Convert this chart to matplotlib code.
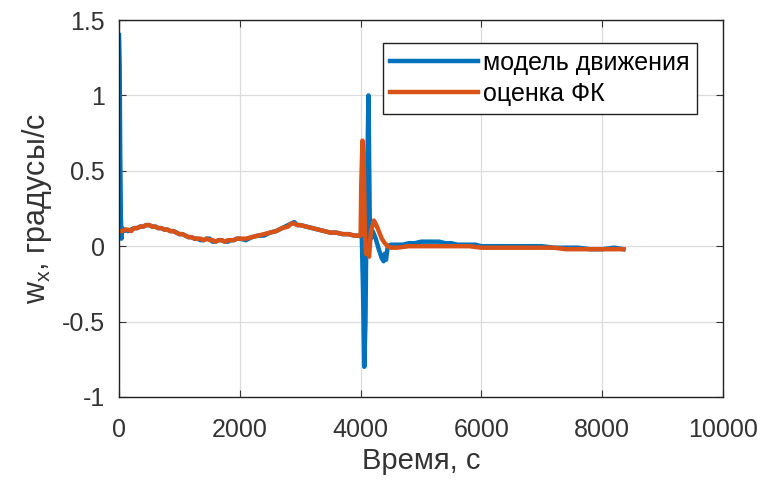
import matplotlib
matplotlib.use("Agg")
import matplotlib.pyplot as plt

plt.rcParams['font.family'] = ['Liberation Sans', 'DejaVu Sans']
plt.rcParams['mathtext.fontset'] = 'custom'
plt.rcParams['mathtext.rm'] = 'Liberation Sans'

# model of motion (blue)
model_t = [0, 10, 20, 30, 40, 50, 80, 100, 150, 200, 250, 300, 350, 400, 450, 500, 550,
           600, 650, 700, 750, 800, 850, 900, 950, 1000, 1050, 1100, 1150, 1200, 1250,
           1300, 1350, 1400, 1450, 1500, 1550, 1600, 1650, 1700, 1750, 1800, 1850, 1900,
           1950, 2000, 2100, 2200, 2300, 2400, 2500, 2600, 2700, 2800, 2850, 2900, 2950,
           3000, 3100, 3200, 3300, 3400, 3500, 3600, 3700, 3800, 3900, 4000,
           4020, 4040, 4060, 4080, 4100, 4130, 4150, 4170, 4200, 4250, 4300, 4350, 4380,
           4400, 4420, 4450, 4500, 4600, 4700, 4800, 4900, 5000, 5100, 5200, 5300, 5400,
           5500, 5600, 5700, 5800, 5900, 6000, 6200, 6400, 6600, 6800, 7000, 7200, 7400,
           7600, 7800, 8000, 8200, 8350]
model_v = [1.40, 1.20, 0.60, 0.20, 0.05, 0.12, 0.10, 0.11, 0.10, 0.11, 0.12, 0.12, 0.13,
           0.13, 0.14, 0.14, 0.13, 0.13, 0.12, 0.12, 0.11, 0.11, 0.10, 0.10, 0.09, 0.08,
           0.08, 0.07, 0.06, 0.06, 0.05, 0.05, 0.04, 0.04, 0.05, 0.05, 0.03, 0.03, 0.04,
           0.04, 0.03, 0.03, 0.04, 0.04, 0.05, 0.05, 0.04, 0.06, 0.07, 0.07, 0.09, 0.10,
           0.12, 0.14, 0.15, 0.16, 0.14, 0.14, 0.13, 0.12, 0.11, 0.10, 0.09, 0.09, 0.08,
           0.08, 0.07, 0.07,
           0.05, -0.30, -0.80, -0.50, 0.30, 1.00, 0.20, 0.05, 0.10, 0.05, -0.02, -0.08,
           -0.10, -0.05, -0.09, 0.00, 0.01, 0.01, 0.01, 0.02, 0.02, 0.03, 0.03, 0.03, 0.03,
           0.02, 0.02, 0.01, 0.01, 0.01, 0.01, 0.00, 0.00, 0.00, 0.00, 0.00, 0.00, -0.01,
           -0.01, -0.01, -0.02, -0.02, -0.01, -0.02]

# Kalman filter estimate (orange)
kf_t = [0, 50, 100, 150, 200, 250, 300, 350, 400, 450, 500, 550, 600, 650, 700, 750, 800,
        850, 900, 950, 1000, 1050, 1100, 1150, 1200, 1250, 1300, 1350, 1400, 1450, 1500,
        1550, 1600, 1650, 1700, 1750, 1800, 1850, 1900, 1950, 2000, 2100, 2200, 2300,
        2400, 2500, 2600, 2700, 2800, 2850, 2900, 2950, 3000, 3100, 3200, 3300, 3400,
        3500, 3600, 3700, 3800, 3900, 4000,
        4010, 4030, 4050, 4070, 4090, 4110, 4140, 4170, 4220, 4260, 4300, 4350, 4400,
        4450, 4500, 4600, 4800, 5000, 5200, 5400, 5600, 5800, 6000, 6200, 6400, 6600,
        6800, 7000, 7200, 7400, 7600, 7800, 8000, 8200, 8350]
kf_v = [0.10, 0.10, 0.11, 0.11, 0.10, 0.12, 0.12, 0.13, 0.13, 0.14, 0.14, 0.13, 0.13, 0.12,
        0.12, 0.11, 0.11, 0.10, 0.10, 0.09, 0.08, 0.08, 0.07, 0.06, 0.06, 0.05, 0.05, 0.05,
        0.04, 0.05, 0.04, 0.04, 0.03, 0.04, 0.04, 0.03, 0.04, 0.04, 0.04, 0.05, 0.05, 0.05,
        0.06, 0.07, 0.08, 0.09, 0.10, 0.12, 0.13, 0.15, 0.15, 0.14, 0.14, 0.13, 0.12, 0.11,
        0.10, 0.09, 0.09, 0.08, 0.08, 0.07, 0.07,
        0.40, 0.70, 0.60, 0.10, -0.05, 0.00, -0.07, 0.10, 0.17, 0.14, 0.10, 0.05, 0.02,
        0.00, -0.01, -0.01, 0.00, 0.00, 0.00, 0.00, 0.00, 0.00, -0.01, -0.01, -0.01,
        -0.01, -0.01, -0.01, -0.01, -0.02, -0.02, -0.02, -0.02, -0.02, -0.02]

x_ticks = [0, 2000, 4000, 6000, 8000, 10000]
y_ticks = [-1, -0.5, 0, 0.5, 1, 1.5]
y_ticklabels = ['-1', '-0.5', '0', '0.5', '1', '1.5']

fig = plt.figure(figsize=(7.64, 4.88), dpi=100)
ax = fig.add_axes([0.1558, 0.1865, 0.7906, 0.7725])

ax.plot(model_t, model_v, color='#0072BD', lw=3.2, label='модель движения')
ax.plot(kf_t, kf_v, color='#D95319', lw=3.2, label='оценка ФК')

ax.set_xlim(0, 10000)
ax.set_ylim(-1, 1.5)
ax.set_xticks(x_ticks)
ax.set_xticklabels([str(t) for t in x_ticks])
ax.set_yticks(y_ticks)
ax.set_yticklabels(y_ticklabels)
ax.grid(True, color='#dcdcdc', lw=0.9)
ax.set_axisbelow(True)
ax.tick_params(direction='in', labelsize=18, colors='#333333', top=True, right=True,
               length=5)
ax.tick_params(axis='x', pad=15)
ax.tick_params(axis='y', pad=10)
for s in ax.spines.values():
    s.set_linewidth(1.0)
    s.set_color('#222222')

ax.set_xlabel('Время, с', fontsize=21, color='#333333', labelpad=4)
ax.set_ylabel(r'w$_\mathregular{x}$, градусы/с', fontsize=22, color='#333333',
              labelpad=6)

leg = ax.legend(loc='upper right', bbox_to_anchor=(0.957, 0.939), fontsize=18,
                handlelength=3.5, fancybox=False, framealpha=1, edgecolor='#222222',
                borderpad=0.3, handletextpad=0.2, labelspacing=0.3,
                borderaxespad=0)
leg.get_frame().set_linewidth(1.0)

fig.savefig('out.png', dpi=100)
